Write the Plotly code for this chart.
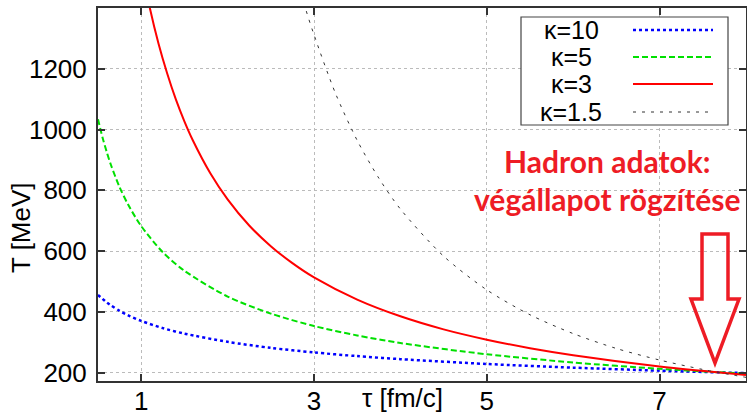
import plotly.graph_objects as go

# ---- data ----
tau_k10 = [0.5, 0.55, 0.6, 0.65, 0.75, 0.85, 1.0, 1.25, 1.5, 2.0, 2.5, 3.0, 3.5, 4.0, 5.0, 6.0, 7.0, 8.0]
T_k10 = [455, 443, 431, 421, 403, 388, 370, 346, 328, 301, 281, 266, 254, 244, 228, 216, 206, 198]

tau_k5 = [0.5, 0.55, 0.6, 0.65, 0.75, 0.85, 1.0, 1.25, 1.5, 2.0, 2.5, 3.0, 3.5, 4.0, 5.0, 6.0, 7.0, 8.0]
T_k5 = [1034, 976, 927, 883, 810, 752, 682, 596, 535, 450, 394, 353, 322, 297, 260, 233, 212, 196]

tau_k3 = [1.0, 1.1, 1.2, 1.3, 1.4, 1.5, 1.6, 1.8, 2.0, 2.25, 2.5, 2.75, 3.0, 3.5, 4.0, 4.5, 5.0, 5.5, 6.0, 7.0, 8.0]
T_k3 = [1540, 1400, 1283, 1185, 1100, 1027, 963, 856, 770, 684, 616, 560, 513, 440, 385, 342, 308, 280, 257, 220, 192]

tau_k15 = [2.75, 2.9, 3.0, 3.25, 3.5, 3.75, 4.0, 4.5, 5.0, 5.5, 6.0, 6.5, 7.0, 7.5, 8.0]
T_k15 = [1561, 1400, 1312, 1118, 964, 840, 738, 583, 472, 390, 328, 279, 241, 210, 184]

series_names = ["κ=10", "κ=5", "κ=3", "κ=1.5"]
x_ticks = [1, 3, 5, 7]
y_ticks = [200, 400, 600, 800, 1000, 1200]
x_label = "τ [fm/c]"
y_label = "T [MeV]"
note_lines = ["Hadron adatok:", "végállapot rögzítése"]

# ---- styling ----
W, H = 747, 412
L, R, T, B = 98, 1, 8, 31
PW, PH = W - L - R, H - T - B

def px(x):
    return (x - L) / PW

def py(y):
    return (H - B - y) / PH

styles = [
    dict(color="#0000ff", width=2.5, dash="dot"),
    dict(color="#00e000", width=2, dash="6px,3px"),
    dict(color="#ff0000", width=2, dash="solid"),
    dict(color="#333333", width=1, dash="3px,6px"),
]
data = [(tau_k10, T_k10), (tau_k5, T_k5), (tau_k3, T_k3), (tau_k15, T_k15)]

fig = go.Figure()
for (xs, ys), name, st in zip(data, series_names, styles):
    fig.add_trace(go.Scatter(x=xs, y=ys, mode="lines", name=name,
                             line=dict(shape="spline", smoothing=0.8, **st),
                             showlegend=False))

tick_font = dict(family="Liberation Sans, Arial, sans-serif", size=26, color="black")
axis_common = dict(showline=True, linecolor="#333333", linewidth=2, mirror="ticks",
                   ticks="inside", ticklen=7, tickwidth=1.5, tickcolor="#333333",
                   showgrid=True, gridcolor="#bbbbbb", griddash="dot", gridwidth=1,
                   zeroline=False, tickfont=tick_font, automargin=False)

fig.update_layout(
    width=W, height=H,
    margin=dict(l=L, r=R, t=T, b=B, pad=0),
    paper_bgcolor="white", plot_bgcolor="white",
    xaxis=dict(range=[0.5, 8], tickvals=x_ticks, ticktext=[str(v) for v in x_ticks],
               ticklabelstandoff=-4, **axis_common),
    yaxis=dict(range=[172, 1400], tickvals=y_ticks, ticktext=[str(v) for v in y_ticks],
               ticklabelstandoff=4, **axis_common),
)

shapes = []
annotations = []

# axis titles
annotations.append(dict(x=px(402), y=py(398), xref="paper", yref="paper", text=x_label,
                        showarrow=False, font=tick_font, xanchor="center", yanchor="middle"))
annotations.append(dict(x=px(21), y=py(228), xref="paper", yref="paper", text=y_label,
                        showarrow=False, font=tick_font, textangle=-90,
                        xanchor="center", yanchor="middle"))

# legend box
shapes.append(dict(type="rect", xref="paper", yref="paper",
                   x0=px(521), x1=px(728), y0=py(125), y1=py(17),
                   line=dict(color="#444444", width=1.2), fillcolor="white", layer="above"))
legend_font = dict(family="Liberation Sans, Arial, sans-serif", size=25, color="black")
row_y = [30, 57, 84, 112]
for name, st, ry in zip(series_names, styles, row_y):
    annotations.append(dict(x=px(571), y=py(ry), xref="paper", yref="paper", text=name,
                            showarrow=False, font=legend_font, xanchor="center",
                            yanchor="middle", borderpad=0))
    shapes.append(dict(type="line", xref="paper", yref="paper",
                       x0=px(633), x1=px(713), y0=py(ry), y1=py(ry),
                       line=dict(color=st["color"], width=st["width"], dash=st["dash"]),
                       layer="above"))

# red note text
red = "#ee1c25"
note_font = dict(family="Lato, Open Sans, sans-serif", size=30, color=red)
annotations.append(dict(x=px(607), y=py(181), xref="paper", yref="paper",
                        text="<b>%s</b>" % note_lines[0], showarrow=False, font=note_font,
                        xanchor="center", yanchor="bottom"))
annotations.append(dict(x=px(607), y=py(219), xref="paper", yref="paper",
                        text="<b>%s</b>" % note_lines[1], showarrow=False, font=note_font,
                        xanchor="center", yanchor="bottom"))

# hollow arrow
pts = [(702, 234), (728, 234), (728, 299), (739, 299), (715, 363), (691, 299), (702, 299)]
path = "M " + " L ".join("%.5f,%.5f" % (px(a), py(b)) for a, b in pts) + " Z"
shapes.append(dict(type="path", xref="paper", yref="paper", path=path,
                   line=dict(color=red, width=3.5), fillcolor="rgba(0,0,0,0)", layer="above"))

fig.update_layout(shapes=shapes, annotations=annotations)
fig.write_html("out.html")
